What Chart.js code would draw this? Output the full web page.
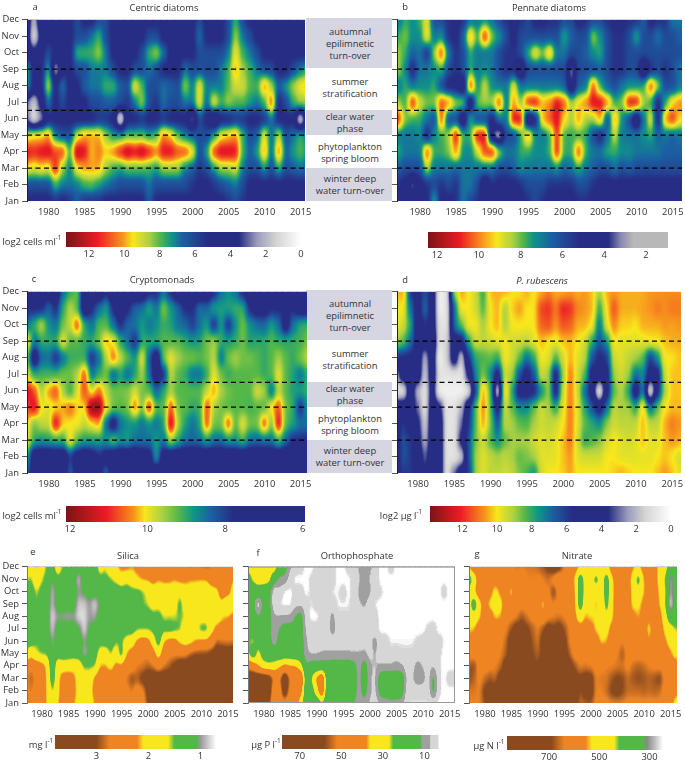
<!DOCTYPE html>
<html>
<head>
<meta charset="utf-8">
<title>Phytoplankton and nutrients</title>
<script src="https://cdn.jsdelivr.net/npm/chart.js@4"></script>
<style>
body { margin: 0; background: #fff; }
#page { position: relative; width: 685px; height: 761px; overflow: hidden; font-family: "Open Sans", sans-serif; color: #333; }
#page canvas { position: absolute; }
.txt { position: absolute; transform: translate(-50%, -50%); white-space: nowrap; font-size: 9.4px; }
.txt sup { font-size: 6.5px; line-height: 0; }
.phase { position: absolute; background: #d5d6e2; left: 306px; width: 86px; }
</style>
</head>
<body>
<div id="page"></div>
<script>
const years = [1977,1978,1979,1980,1981,1982,1983,1984,1985,1986,1987,1988,1989,1990,1991,1992,1993,1994,1995,1996,1997,1998,1999,2000,2001,2002,2003,2004,2005,2006,2007,2008,2009,2010,2011,2012,2013,2014,2015,2016];
const months = ['Jan','Feb','Mar','Apr','May','Jun','Jul','Aug','Sep','Oct','Nov','Dec'];
const yearTicks = [1980,1985,1990,1995,2000,2005,2010,2015];
const phaseMonths = [2, 4, 5.5, 8];

// rows run Jan to Dec, columns 1977 to 2016
const centric = [
 [5,5,5,5, 5.6,5,5.6,6.6, 5.6,5.6,5.6,5, 5,5,5,5, 5,6.6,5,5, 5,5,5,5, 5,5,5,5, 5.6,6.2,5.6,5, 5,5,5,5, 5,5,5,5],
 [6.2,6.2,6.2,6.2, 7.75,7,7,7, 7.75,8,7.4,7, 6.6,6.2,6.2,6.2, 6.2,7,6.2,6.2, 6.2,6.2,6.2,5.6, 5,5,5.6,6.2, 6.6,7,6.2,5, 5,5,5,5, 5,5,5,5],
 [9.5,9,9.5,9, 11.5,8.5,7,9.5, 10,10,10,8.5, 7.75,7.4,8,8, 8,7.75,7.4,8.5, 8.5,8.5,7,6.6, 5.6,6.2,7.4,8.5, 8.5,9,7,6.2, 6.2,7.4,6.2,7.75, 6.2,6.6,7,6.6],
 [11.8,11.4,11.8,12, 11,11,7.75,12.4, 11.8,9.8,10.4,9.7, 10.2,11.4,12.4,11.8, 12.4,11.4,10.3,11.8, 11.8,10.9,10.9,9.5, 6.2,7.4,11,12, 12,11.8,7.75,6.6, 7.4,10.2,6.6,10.6, 6.6,7.4,8,7.4],
 [9,9.5,9.5,10.3, 7,6.2,6.2,9, 10,10,10,8.5, 7.4,7.4,8,8, 8,7.4,8,10.5, 9.7,8,7,6.6, 6.2,6.2,7.4,9.3, 9.7,10.3,7.75,6.2, 6.6,9.5,6.6,9, 6.2,7,7.75,7],
 [3,1,2.5,5, 5,5,5,5, 5,5,5.6,5.6, 5,0.5,5,5, 5.6,5,5,5.6, 5,5,5,2.5, 6.2,5,3,5, 5,5.6,5.6,5, 5,5.6,7,5, 5,5,1,5],
 [3,1.5,4,7, 5,6.2,5,5, 5,6.2,6.2,6.6, 6.6,6.2,5.6,7, 8.55,6.2,5.6,7, 6.2,6.2,7,7, 9.5,6.6,9.5,7.75, 8.55,8,8,7.4, 7,7.75,10.9,5, 6.2,7.75,8.55,8.55],
 [7.75,5,5,9, 5,7,5,5, 6.6,7,7,7.75, 7.75,6.6,6.2,9.5, 8,6.2,6.2,7, 6.6,6.2,8.55,7, 9.5,7,7,7, 8,9,9,8, 7.75,10.4,8.55,6.6, 7.4,8.55,9.5,10],
 [7.75,5,5,7.75, 2,5,5,6.2, 6.2,7,7,7, 6.2,5,5,6.2, 6.2,7,6.2,5, 5,5,7,6.2, 6.2,6.2,6.2,7, 7.75,10,8.55,7.75, 7,6.2,6.2,5, 5,6.2,7,7.75],
 [5,4,5,6.2, 5,5,5,7.75, 7.75,7.75,8.55,7, 5,5,5,5, 6.2,7.75,8.55,7, 5,5,5,5, 6.2,6.2,6.2,6.2, 7,9.5,7.75,7, 6.2,5,5,5, 5,5,5,5],
 [5,1,4,5, 5,5,5,6.2, 6.2,7,7.75,6.2, 5,5,5,5, 5,6.2,6.2,5, 5,5,5,5, 7,5,5,5, 6.2,8.55,7,6.2, 5,5,5,5, 5,5,5,5],
 [5,2,5,5, 5,5,5,6.2, 5,5,6.2,6.2, 5,5,5,5, 5,5,5,5, 5,5,5,5, 6.2,5,5,5, 6.2,7.75,6.2,5, 5,5,5,5, 5,5,5,5]
];
const pennate = [
 [4.8,4.8,4.8,4.8, 4.8,7.7,4.8,4.8, 5.3,6.9,6,5.3, 4.8,5.3,4.8,4.8, 4.8,4.8,5.3,6, 5.3,4.8,4.8,4.8, 4.8,5.3,5.3,4.8, 4.8,4.8,4.8,4.8, 4.8,4.8,4.8,4.8, 4.8,4.8,4.8,4.8],
 [5.3,4.8,3.3,4.8, 5.3,6,5.3,6, 5.3,6.9,6.9,6, 3.6,5.3,4.8,4.8, 4.8,5.3,6,6, 6,5.3,5.3,5.3, 5.3,6,6,5.3, 4.8,4.8,4.8,4.8, 4.8,4.8,4.8,4.8, 4.8,4.8,4.8,4.8],
 [6.5,6,6,6, 8.7,6.9,6.9,6.9, 6.5,6.9,6.9,6.9, 6.9,6.9,6,6, 6.5,7.3,6.9,6.9, 6.9,6.9,7.3,6.5, 6.9,7.7,6.9,6.5, 6,6,6.9,6, 6.5,6,6,6, 6,6,6,6],
 [7.7,6.9,6.9,6.9, 10.6,7.7,7.7,8.1, 10,7.3,7.3,8.7, 10.6,11,8.35,6.9, 6.9,7.7,7.7,7.3, 7.3,7.7,11,7.7, 7.7,10.6,7.7,6.9, 6.9,7.7,7.7,7.3, 7.3,6.9,6.9,6.9, 6.9,6.5,6.5,6.5],
 [6.9,6.9,6.9,7.3, 4.8,7.3,7.7,8.35, 11.2,7.7,7.7,11.2, 11.2,3.6,2.4,6, 6,7.7,9.9,7.3, 6.9,7.7,10.9,7.7, 7.7,7.7,7.7,6, 4.8,6.9,8.7,6.9, 6.9,6.9,7.3,7.7, 6.5,6.9,6.5,6.9],
 [11,8.1,7.7,7.7, 6.9,6,10.6,6, 6,3.6,7.7,6, 6,4.8,6.9,6.9, 11.2,11.2,3,4.8, 9.5,10.4,11.2,9.3, 8.35,9.8,8.35,8.35, 9.8,6,9.8,7.3, 6,3.3,6.9,9.1, 4.8,9.8,10.8,9.3],
 [8.35,7.7,11,8.7, 8.1,8.1,10.6,10, 8.35,8.35,3.6,8.1, 8.35,8.35,10.6,6.9, 9.9,8.1,11,11.2, 9.5,10,11.2,10.4, 8.35,9.3,10,11.2, 11.2,10,7.7,8.1, 11.2,11.2,8.35,7.7, 4.8,7.7,9.3,10],
 [6.9,7.7,6.9,7.3, 7.3,7.7,6,4.8, 4.8,3.6,10.9,7.3, 8.7,7.3,6.9,6.9, 9.1,6.9,6.9,6.9, 6.9,6.9,6.9,6.5, 3.6,6.5,6.9,10.6, 7.7,6.5,6,6.9, 7.3,7.3,7.7,10.6, 8.35,6,6,6.9],
 [8.35,7.3,4.8,6.9, 6.9,7.3,7.7,6, 5.3,6,7.7,6.9, 7.3,6.9,6,5.3, 5.3,3.3,6,6, 6,6,6,6, 3,6,6,6, 6.5,6,5.3,5.3, 6,6,3.3,5.3, 6,5.3,6,6.9],
 [8.35,7.7,6.5,6.9, 5.3,8.35,10.6,6.9, 5.3,6,7.7,6.9, 6.9,6.9,6,5.3, 5.3,6,7.7,9.3, 8.1,9.8,6.9,6.9, 6,6,6.5,7.3, 7.7,6,5.3,5.3, 6,6,6,6, 6,6,6,6],
 [7.7,8.1,7.3,7.3, 9.3,6.9,7.3,5.3, 4.8,6.5,9.8,7.7, 11,8.1,7.3,6, 4.8,6,6,6, 6,6,6,7.7, 6.5,6,6,8.35, 7.3,6,5.3,5.3, 6,7.7,6,6, 6.9,6,6,6.5],
 [6.9,7.7,7.3,7.7, 9.1,6,6,5.3, 4.8,5.3,6.9,6.9, 7.3,6.9,6,5.3, 4.8,5.3,6,4.8, 4.8,5.3,5.3,6, 6,4.8,5.3,6, 6,5.3,4.8,4.8, 5.3,5.3,6.5,4.8, 5.3,5.3,6.9,6.9]
];
const crypto = [
 [8.5,7,6.8,7, 7,7,8.4,7.3, 7,7,7.3,8.5, 7,7,7,7, 7,7,7,7, 7,7,7,7, 7,7,7,7, 7,7,7,7, 7,7,7,7, 7,7,7,7],
 [9,7,7,7, 7,7,8,7.3, 7,7.3,7.8,7.4, 7,7,7,7, 7.3,7.4,8.9,7.3, 7,7,7,7, 7,7,7,7, 7,7,7,7, 7,7,7,7, 7,7,7,7],
 [10.05,9,8.8,8.9, 9.05,9,10.15,9.2, 8.9,8.9,8.9,8.8, 9.35,8.8,8.9,8.5, 8.5,8.5,8.9,8.5, 9.65,9,8.5,8.4, 8.5,8.9,8.5,8.5, 8.85,8.8,9.2,8.5, 8.4,8.5,8.5,9.2, 8.4,7.8,7.8,7.8],
 [10.15,9.35,9.75,9.75, 11.3,10.15,10.05,10.05, 9.75,10.05,10.35,8.4, 7.3,8.5,8.8,8.8, 8.5,8.8,8.5,8.9, 11.5,9.6,8.9,8.5, 8.9,10.8,9.35,9.35, 10.8,9.2,10.05,9.35, 9.35,10.8,9.35,11.3, 9.2,8.9,8.5,8.5],
 [10.8,11.3,10.05,9.9, 10.05,10.3,10.6,10.15, 10.05,12,12,10.05, 9.35,9.2,9.35,10.6, 9.35,11.05,9.2,9.2, 10.8,9.35,9.2,9, 9.05,10.8,9.6,9.35, 9.2,9.2,9.2,9.1, 9.2,9.2,10.15,10.8, 9.35,9,7.8,8.8],
 [11.3,10.8,9.6,10.35, 10.8,9.6,9,9.9, 10.8,9.9,10.6,9.75, 9.35,9.35,9.45,9.9, 9.35,9.2,8.4,9, 9.6,9.2,9.2,9.2, 9.2,9.75,10.35,9.6, 9.35,9.2,9.2,9.2, 9.9,9.6,8.4,9.75, 9.2,8.9,8.9,9.05],
 [9.9,9,9.1,9.1, 9.1,9.35,9.35,9.65, 10.8,8.5,9,9.35, 8.3,8.9,8.4,8.9, 9.6,8.5,7,7.8, 9.75,9.2,9,8.5, 8.5,9,10.05,9.35, 9,9.2,9.2,9.2, 9.2,9,9.2,10.05, 9.2,8.9,8.5,9],
 [9.35,7,8.4,8.5, 7.8,8.5,9.05,9.05, 9.05,7.8,8.5,9.65, 10.6,9.75,9.2,8.8, 10.05,8.3,7,9.35, 10.05,9.6,9.35,9.35, 9.2,9.35,9.75,8.5, 9.35,9.6,9.35,9.35, 9.2,9,9.2,9.6, 9.2,9,9.35,9.75],
 [10.35,8.5,9,9, 9,10.05,9.2,9.2, 9,9,9.35,10.3, 10.05,9,8.5,7.8, 9,9,9,9.2, 9.2,9.2,9,8.85, 8.9,9.35,9.6,9, 8.9,9,9.35,8.9, 9,9,9.2,9, 9,9.05,9.1,9.35],
 [8.5,9.05,9.75,8.8, 8.5,9.35,9.75,10.8, 9,8.5,9.2,9.2, 8.5,7.8,8.4,8.5, 8.9,8.5,8.8,9.05, 8.9,8.5,8.4,8, 8.5,8.9,7.8,8.9, 7.8,8.8,9.35,8.8, 8.5,8.4,8.9,8.5, 7.3,8.5,9,9.1],
 [7.8,7.8,7.8,8.4, 7.8,9,9.75,9.2, 7,7.8,8.5,8.9, 7.8,7,7.8,8.4, 8.5,9,8.5,9.45, 8.85,8.4,7.8,7.8, 8.5,8.4,8.9,8.9, 8.9,9.05,9.05,7.8, 7.4,7.4,7.8,7.8, 7.8,7.8,7.3,7.3],
 [7,7,7,7.4, 7,8.5,9,9.35, 7,7,7,7.8, 7,7,7,7, 7,7.8,7.8,8.5, 7.8,7,7,7, 7,7,7.8,8.5, 8.8,8.5,7.8,7, 7,7,7,7, 7,7,7,7]
];
const rubescens = [
 [5,6,6,5, 4,5,5,1, 3,5,6,9, 9.7,9.3,9.3,9.5, 9.3,8.7,8.3,7.5, 9.5,10,10,10.2, 10.6,10,10,10, 10,10,10.2,10.5, 10.2,10,10,10, 10.3,10.7,10.3,9.7],
 [5,6.5,6,5, 3,5,5,1, 1,1.5,6.5,9, 9.7,9.3,9,9.3, 9,8.5,8.7,9, 9.7,9.7,9.8,10.3, 10.7,9.7,9.5,9.5, 9.5,10,10,9.7, 9.7,9.7,9.8,9.8, 10,10.3,10,9.5],
 [5,6.5,6,4.5, 2,5,5,1, 1,4,6.5,8.7, 9.5,8.3,7.5,8.5, 9,9,9,9.5, 9.7,9.5,9.7,10.3, 11,9.5,8,8.3, 8.7,9.5,10,9.7, 9.5,9.7,10.3,9.7, 9.7,10.3,10.7,10.5],
 [5,6,5,4, 1.5,5,5,1, 1,3,6,8.5, 10.7,8.7,6.5,9.3, 9,8.5,8.3,9, 9.5,9.3,9.5,10, 11,9.7,8.5,8, 7.5,8.8,9.5,9.3, 9.3,9.3,10.5,9.3, 9.3,10.5,11,10.7],
 [5,5,5,3, 1,5,4,1, 1,2,5.5,8.5, 11,8.5,5,9.5, 8.5,7.5,7.5,8.5, 9.5,9,8,9.7, 11,9.7,8,6.5, 5,7,9.3,9, 9,8,10.3,7, 8.5,10,10.4,10.4],
 [1,1,5,2, 1,4.5,0.5,0.5, 0.5,0.5,1,6.5, 10.7,8.5,1,10.5, 8,5,5,5.5, 7.5,9,5,9.5, 11,9.5,7,5, 0.5,5,8.5,9.2, 8,4.5,7.5,0.5, 5.5,9,10.3,10.3],
 [2,5,5.5,5, 1.5,5,1,1, 1,1,4,7.5, 8.7,7.5,5,9.5, 9,6.5,5,6.5, 9.5,9,5,9, 11,9.5,8.5,5, 5,5,9,9.5, 9,7,7.5,5, 5,9.5,10.3,10.3],
 [6,5.5,5.5,5, 2,5,0.5,1.5, 5,1.5,6,8, 8.3,8.5,8,10, 9.5,8.5,7,8, 10,9.7,8.3,9.5, 10.5,9.7,9.3,6.5, 5.5,6,9.5,9.7, 9.3,9,8.5,6, 7.5,10,10,10.3],
 [9,8.5,7,5, 4.5,6,1,1.5, 5,5,8,9.5, 9.3,9.5,9.7,10, 9.5,9.5,9.3,9.7, 10.4,10,9.8,10.3, 10.4,10,9.5,8, 6.5,7.5,10,9.7, 9.7,9.7,9.8,10, 10,10.3,10.5,10.5],
 [10,9.5,8,4.5, 6,5,1,1, 7,8.5,10,10, 9,10,10.5,9, 10,10,10,10, 11.3,11.5,10.7,11.5, 11.3,10.5,10.5,10, 7,9.7,10.9,10.2, 10.2,10,10.5,10.5, 10.5,10.7,10.6,10.7],
 [10,10,7,5, 7,5,0.5,1, 7,10,10,9.5, 8.3,10,10.5,9, 10.2,10.7,10,10, 11.7,11.9,11,12.1, 11.9,10.9,10.7,10.5, 8,10,11.5,10.5, 10.5,10.5,10.6,10.7, 11,10.8,11,11],
 [10.3,10.6,6,5, 6.5,5,0.5,1, 9,10.6,10,9.5, 8,10.4,10.5,10.5, 10,10,10.5,10, 10.5,11,10.5,10.5, 10.7,10.5,10.7,10.3, 9,10.5,10.7,10.5, 10.5,10.5,10.5,10.7, 10.7,10.8,10.8,10.8]
];
const silica = [
 [2.6,2.6,2.6,2.6, 2.1,1.8,2.1,2.5, 2.5,2.2,2,1.6, 1.9,2.2,2.5,2.5, 2.5,2.5,2.5,2.6, 2.6,2.6,2.6,3, 3.3,3.3,3.3,3.3, 3.3,3.3,3.3,3.3, 3.3,3.3,3.3,3.3, 3.3,3.3,3.3,3.3],
 [2.7,2.8,2.6,2.6, 2.1,1.5,2,2.5, 2.5,2.3,2,1.8, 2,2.3,2.5,2.5, 2.5,2.6,2.6,2.7, 2.8,2.6,2.7,3.1, 3.3,3.3,3.3,3.3, 3.3,3.3,3.3,3.3, 3.3,3.3,3.3,3.3, 3.3,3.3,3.3,3.3],
 [2.7,2.9,2.7,2.6, 2.1,1.2,2,2.4, 2.5,2.3,1.9,1.8, 1.8,2.3,2.6,2.5, 2.5,2.6,2.6,2.8, 3,2.9,3.1,3.3, 3.3,3.3,3.3,3.3, 3.3,3.3,3.3,3.3, 3.3,3.3,3.3,3.3, 3.3,3.3,3.3,3.3],
 [2.6,2.7,2.6,2.4, 2.1,0.95,2,1.9, 1.9,2,1.9,1.5, 1.5,1.5,2.2,2.2, 2,2.3,2.3,2.6, 2.6,2.8,2.8,2.9, 2.8,2.6,2.8,2.9, 3.1,3.3,3.3,3.3, 3.3,3.3,3.3,2.9, 3.3,3.3,3.3,3.3],
 [1.6,2,1.6,1.5, 1.5,1,1.3,1.2, 1.3,1.3,1.3,0.9, 1.1,1.3,1.8,1.9, 1.5,1.9,1.3,2.2, 2.4,2.5,2.7,2.7, 2.4,1.9,2.5,2.7, 2.7,2.7,2.7,2.9, 3,3,3,3.1, 3.3,3.3,3.2,3.3],
 [1.3,1.3,1.5,1.4, 1.3,1,1.2,1.1, 1.2,1.3,1.3,1, 1.2,1.2,1.4,1.3, 1.3,1.5,1.5,1.8, 1.9,2.3,2.5,2.4, 1.9,1.2,2.2,2.4, 2.4,2.1,1.9,2, 2.2,2.3,2.3,2.5, 2.9,2.8,2.8,2.8],
 [1.2,1.2,1.3,1.2, 1.2,0.85,1.2,1.2, 1.2,1.2,1.1,0.8, 1.1,1.2,1.2,1.2, 1.2,1.2,1.2,1.3, 1.3,1.5,1.5,1.5, 1.4,0.9,1.4,1.3, 1.4,1.5,1.9,1.9, 1.8,1.4,1.4,2, 2.3,2.4,2.4,2.5],
 [1.2,1.2,1.2,1.2, 1.2,0.8,1,1, 0.95,1,0.8,0.8, 1,0.95,1.2,1.3, 1.3,1.2,1.2,1.3, 1.2,1.3,1.3,1.3, 1.4,1.4,1.6,1.6, 1.6,1.5,1.6,1.7, 1.8,1.8,1.8,1.9, 1.9,2.1,2.2,2.3],
 [1.2,1.2,1.5,1.3, 1.2,0.9,1.2,1.2, 1.2,1.2,0.85,0.85, 1,0.8,1.1,1.2, 1.3,1.2,1.2,1.3, 1.3,1.4,1.5,1.6, 1.8,1.7,1.9,1.8, 1.8,1.4,1.8,1.9, 1.9,1.9,1.9,1.9, 1.9,2,1.4,1.9],
 [1.2,1.3,1.6,1.4, 1.3,0.9,1.2,1.2, 1,1.2,1,1.1, 1.2,1.2,1.2,1.2, 1.3,1.2,1.3,1.3, 1.4,1.4,1.5,1.7, 1.8,1.8,1.8,1.8, 1.8,1.7,1.9,1.9, 1.9,1.7,1.7,1.9, 2,2.6,2.5,1.9],
 [1.6,1.5,1.9,1.6, 1.4,1,1.4,1.3, 1.2,1.2,0.85,1.3, 1.2,1.2,1.4,1.4, 1.5,1.7,1.9,1.7, 1.9,2.1,2.2,2.2, 2.4,2.2,2.3,2.3, 2.2,2.3,2.3,2.2, 2.2,2.2,2.2,2.5, 2.6,2.8,2.6,2.2],
 [1.9,1.9,1.5,1.8, 1.5,1.3,1.9,1.5, 1.4,1.2,1.2,1.3, 1.3,1.3,1.8,1.6, 2,2.1,2.3,2.3, 2.2,2.3,2.5,2.8, 2.8,2.7,2.6,2.5, 2.6,2.7,2.7,2.9, 2.7,2.8,2.9,2.8, 2.7,2.7,2.7,2.4]
];
const phosphate = [
 [68,68,68,65, 60,40,45,50, 42,42,32,14, 15,15,25,14, 14,14,14,14, 12,8,10,7, 5,8,9,10, 10,9,4,3, 3,3,3,4, 2,2,2,2],
 [70,70,70,68, 65,44,48,65, 50,50,42,16, 20,32,50,15, 17,20,16,15, 15,9,15,8, 6,15,16,16, 16,16,5,5, 5,5,5,14, 4,2,2,2],
 [70,70,70,68, 65,52,52,70, 52,52,55,16, 26,40,52,16, 22,28,18,16, 16,9,18,8, 6,16,18,17, 17,17,6,7, 10,9,5,14, 4,2,5,5],
 [50,45,36,30, 28,30,36,40, 38,38,30,12, 15,15,15,15, 16,16,16,16, 14,9,16,8, 7,8,8,8, 9,8,5,6, 9,7,6,7, 4,2,2,2],
 [28,16,30,20, 18,18,16,18, 18,16,17,8, 7,7,8,8, 8,8,8,8, 8,8,8,6, 8,5,4,4, 5,4,4,4, 5,6,6,6, 4,2,2,2],
 [25,28,20,15, 15,8,15,18, 15,15,16,8, 5,5,5,5, 5,5,5,5, 5,5,6,6, 9,5,5,3, 3,3,3,3, 4,5,6,3, 5,3,2,2],
 [18,20,15,15, 15,7,12,15, 15,15,16,6, 5,5,5,5, 10,5,5,5, 5,5,6,6, 5,2,2,2, 2,2,2,2, 2,2,4,5, 2,2,2,2],
 [15,15,12,15, 15,8,8,8, 8,12,15,5, 2,2,5,5, 9,4,4,4, 5,5,6,6, 5,2,2,2, 2,2,2,2, 2,2,2,2, 2,2,2,2],
 [15,15,3,15, 15,3,3,2, 2,6,6,5, 3,5,3,6, 5,3,3,3, 5,7,8,5, 3,2,2,2, 2,2,2,2, 2,2,2,2, 2,2,2,2],
 [15,15,18,15, 15,3,6,2, 2,5,5,2, 4,5,5,5, 3,3,5,2, 5,8,12,8, 5,4,2,2, 2,2,2,2, 2,2,2,2, 2,5,2,2],
 [18,28,33,33, 30,15,10,10, 5,2,2,2, 4,5,5,5, 5,2,2,2, 5,7,10,7, 6,2,2,2, 2,2,2,2, 2,2,2,2, 2,2,2,2],
 [30,33,33,34, 33,33,18,15, 8,5,5,2, 2,5,8,5, 5,2,2,5, 5,8,10,8, 6,2,2,5, 2,2,2,2, 2,2,2,2, 2,2,2,2]
];
const nitrate = [
 [640,640,640,680, 730,730,730,730, 730,730,730,730, 730,730,730,730, 730,730,730,730, 730,660,670,680, 630,630,630,640, 640,640,630,630, 630,630,630,630, 630,620,600,500],
 [650,650,640,700, 730,730,740,740, 740,740,740,740, 740,740,740,740, 740,740,740,740, 740,680,720,730, 640,640,660,700, 720,690,660,660, 660,670,660,670, 660,620,620,580],
 [690,670,630,660, 680,660,730,740, 740,740,740,740, 740,740,740,740, 740,740,740,740, 720,700,720,720, 640,650,650,680, 700,690,660,680, 690,680,670,680, 700,630,620,600],
 [680,690,620,620, 630,640,660,730, 740,740,740,730, 710,690,730,730, 730,740,740,730, 680,640,650,640, 630,630,640,640, 650,650,630,660, 670,660,640,630, 630,620,620,600],
 [620,620,620,620, 620,620,640,670, 730,730,730,720, 690,670,700,730, 720,730,730,670, 620,620,620,620, 620,620,620,620, 640,680,620,620, 620,620,620,620, 620,620,560,510],
 [600,600,620,620, 620,620,630,660, 730,730,730,720, 680,650,720,730, 720,730,720,640, 620,620,620,620, 600,530,540,620, 620,640,620,620, 620,620,550,620, 620,560,500,470],
 [530,540,600,620, 620,620,620,640, 680,730,730,700, 670,640,680,730, 700,730,680,640, 620,590,600,590, 530,510,510,580, 620,620,620,610, 590,610,510,620, 620,520,470,430],
 [510,480,530,610, 600,530,540,620, 630,640,680,650, 630,620,590,630, 640,650,640,620, 570,480,550,530, 530,500,450,530, 600,620,610,570, 540,600,570,620, 590,470,360,370],
 [500,330,510,600, 520,500,510,610, 610,620,620,620, 620,620,510,620, 640,620,620,620, 570,340,500,520, 540,520,380,530, 600,610,600,520, 520,570,600,620, 540,440,240,350],
 [480,530,620,620, 580,510,560,610, 510,620,620,620, 630,640,630,630, 700,630,620,600, 560,350,470,520, 520,500,360,520, 600,600,600,510, 470,540,600,610, 530,450,280,360],
 [330,480,610,540, 610,590,610,620, 620,630,570,640, 640,630,640,660, 620,570,630,600, 540,340,480,500, 370,500,350,530, 600,600,590,500, 370,550,600,610, 500,430,280,360],
 [560,610,620,620, 610,610,620,610, 630,650,650,650, 650,660,680,700, 740,720,640,610, 600,530,500,510, 540,520,510,600, 610,600,620,550, 530,590,650,600, 500,480,360,360]
];

const navy='#272d84', blue='#1b5fa2', teal='#0f938a', green='#54b848', lime='#a8cf45', yellow='#f8e71c', orange='#f7941d', red='#ec1c24', dark='#7a1416';
const brown='#8a4a1f', soil='#ef8423';
const rampA = [[0,'#ffffff'],[1.4,'#d4d4d4'],[2.5,'#9a9abc'],[3.5,navy],[5.3,navy],[6.7,blue],[7.3,teal],[8,green],[8.55,lime],[9.5,yellow],[10.1,orange],[11.5,red],[13.3,dark]];
const rampB = [[0.95,'#b8b8b8'],[2.6,'#b8b8b8'],[3.2,'#8b8bb0'],[3.8,navy],[5.2,navy],[6.5,blue],[7.4,teal],[7.9,green],[8.35,lime],[9.14,yellow],[9.86,orange],[10.9,red],[12.43,dark]];
const rampC = [[5.94,navy],[7.8,navy],[8.35,blue],[8.8,teal],[9.2,green],[9.6,lime],[10.07,yellow],[10.35,orange],[11.05,red],[12.1,dark]];
const rampD = [[0,'#ffffff'],[1.5,'#d4d4d4'],[2.5,'#9a9abc'],[3.6,navy],[5.7,navy],[6.8,blue],[7.6,teal],[8.4,green],[9,lime],[10,yellow],[10.7,orange],[12.1,red],[13.85,dark]];
const rampE = [[0.7,'#ffffff'],[0.85,'#cccccc'],[1,'#999999'],[1.07,green],[1.5,green],[1.62,yellow],[2.1,yellow],[2.22,soil],[2.75,soil],[3,brown],[3.8,brown]];
const rampF = [[2.5,'#ffffff'],[3,'#ffffff'],[3.5,'#d6d6d6'],[7,'#d6d6d6'],[7.5,'#a0a0a0'],[11,'#a0a0a0'],[12,green],[25,green],[27,yellow],[36,yellow],[38,soil],[52,soil],[58,brown],[78.5,brown]];
const rampG = [[246,'#ffffff'],[280,'#bbbbbb'],[310,'#888888'],[325,green],[420,green],[440,yellow],[530,yellow],[555,soil],[640,soil],[690,brown],[868,brown]];

const page = document.getElementById('page');
Chart.defaults.font.family = '"Open Sans", sans-serif';
Chart.defaults.font.size = 9.4;
Chart.defaults.color = '#333';

function addCanvas(left, top, width, height) {
    const c = document.createElement('canvas');
    c.width = width;
    c.height = height;
    c.style.left = left + 'px';
    c.style.top = top + 'px';
    c.style.width = width + 'px';
    c.style.height = height + 'px';
    page.appendChild(c);
    return c.getContext('2d');
}

function addText(x, y, html) {
    const d = document.createElement('div');
    d.className = 'txt';
    d.style.left = x + 'px';
    d.style.top = y + 'px';
    d.innerHTML = html;
    page.appendChild(d);
}

function toRgb(hex) {
    return [1, 3, 5].map(i => parseInt(hex.substr(i, 2), 16));
}

function colourAt(ramp, v) {
    if (v <= ramp[0][0]) return toRgb(ramp[0][1]);
    for (let i = 1; i < ramp.length; i++) {
        if (v <= ramp[i][0]) {
            const t = (v - ramp[i - 1][0]) / (ramp[i][0] - ramp[i - 1][0]);
            const a = toRgb(ramp[i - 1][1]), b = toRgb(ramp[i][1]);
            return a.map((c, k) => c + (b[k] - c) * t);
        }
    }
    return toRgb(ramp[ramp.length - 1][1]);
}

function blurLine(src, w, h, sigma, horizontal) {
    const r = Math.ceil(sigma * 3), kernel = [];
    let sum = 0;
    for (let i = -r; i <= r; i++) { const k = Math.exp(-i * i / (2 * sigma * sigma)); kernel.push(k); sum += k; }
    const out = new Float32Array(src.length);
    for (let y = 0; y < h; y++) {
        for (let x = 0; x < w; x++) {
            let acc = 0;
            for (let i = -r; i <= r; i++) {
                const px = horizontal ? Math.min(w - 1, Math.max(0, x + i)) : x;
                const py = horizontal ? y : Math.min(h - 1, Math.max(0, y + i));
                acc += src[py * w + px] * kernel[i + r];
            }
            out[y * w + x] = acc / sum;
        }
    }
    return out;
}

// the bars carry the value as a grey level; once drawn they are smoothed and coloured like a filled contour
const contourShade = {
    id: 'contourShade',
    afterDatasetDraw(chart, args, opts) {
        if (args.meta.type !== 'bar') return;
        const a = chart.chartArea, ctx = chart.ctx;
        const l = Math.ceil(a.left), t = Math.ceil(a.top), w = Math.floor(a.right) - l, h = Math.floor(a.bottom) - t;
        const img = ctx.getImageData(l, t, w, h);
        let vals = new Float32Array(w * h);
        for (let i = 0; i < vals.length; i++) vals[i] = img.data[i * 4];
        vals = blurLine(vals, w, h, opts.sigma[0], true);
        vals = blurLine(vals, w, h, opts.sigma[1], false);
        const lo = opts.ramp[0][0], hi = opts.ramp[opts.ramp.length - 1][0];
        const lut = [];
        for (let i = 0; i <= 255; i++) lut.push(colourAt(opts.ramp, lo + (hi - lo) * i / 255));
        for (let i = 0; i < vals.length; i++) {
            const c = lut[Math.round(vals[i])];
            img.data[i * 4] = c[0];
            img.data[i * 4 + 1] = c[1];
            img.data[i * 4 + 2] = c[2];
            img.data[i * 4 + 3] = 255;
        }
        ctx.putImageData(img, l, t);
        if (opts.frame) {
            ctx.save();
            ctx.strokeStyle = opts.frame;
            ctx.lineWidth = 1;
            ctx.strokeRect(a.left + 0.5, a.top + 0.5, a.width - 1, a.height - 1);
            ctx.restore();
        }
    }
};

function heatPanel(rows, ramp, box, xRange, o) {
    const yW = o.yWidth, xH = 22, top = 7, right = 16;
    const ctx = addCanvas(box.x0 - yW, box.y0 - top, box.x1 - box.x0 + yW + right, box.y1 - box.y0 + top + xH);
    const lo = ramp[0][0], hi = ramp[ramp.length - 1][0];
    const cells = [], greys = [];
    rows.forEach((row, m) => row.forEach((v, i) => {
        cells.push({ x: years[i], y: [m - 0.5, m + 0.5] });
        const g = Math.round(255 * (v - lo) / (hi - lo));
        greys.push('rgb(' + g + ',' + g + ',' + g + ')');
    }));
    const datasets = [{ type: 'bar', data: cells, backgroundColor: greys, order: 1, barPercentage: 1, categoryPercentage: 1, grouped: false }];
    (o.phases || []).forEach(m => datasets.push({
        type: 'line', data: [{ x: xRange[0], y: m }, { x: xRange[1], y: m }], order: 0,
        borderColor: '#000', borderWidth: 1.2, borderDash: [5, 3.5], pointRadius: 0
    }));
    new Chart(ctx, {
        type: 'bar',
        data: { datasets },
        plugins: [contourShade],
        options: {
            responsive: false,
            animation: false,
            devicePixelRatio: 1,
            layout: { autoPadding: false, padding: { top, right, left: 0, bottom: 0 } },
            plugins: { legend: { display: false }, tooltip: { enabled: false }, contourShade: { ramp, sigma: o.sigma, frame: o.frame } },
            scales: {
                x: {
                    type: 'linear', min: xRange[0], max: xRange[1], offset: false,
                    grid: { display: false, drawTicks: false },
                    border: { display: false },
                    afterBuildTicks: s => { s.ticks = yearTicks.map(v => ({ value: v })); },
                    afterFit: s => { s.height = xH; },
                    ticks: { padding: 6, maxRotation: 0, autoSkip: false, color: '#333', callback: v => String(v) }
                },
                y: {
                    type: 'linear', min: 0, max: 11,
                    grid: { drawOnChartArea: false, drawTicks: true, tickLength: 5, color: '#555' },
                    border: { display: true, color: o.axis || '#222', width: 1, z: 1 },
                    afterBuildTicks: s => { s.ticks = months.map((m, i) => ({ value: i })); },
                    afterFit: s => { s.width = yW; },
                    ticks: { padding: 3, autoSkip: false, color: '#333', callback: v => (o.monthLabels ? months[v] : '') }
                }
            }
        }
    });
}

function colourBar(ramp, ticks, box) {
    const pad = 14;
    const w = box.x1 - box.x0 + pad * 2, h = box.y1 - box.y0 + 14;
    const ctx = addCanvas(box.x0 - pad, box.y0, w, h);
    const lo = ramp[0][0], hi = ramp[ramp.length - 1][0];
    new Chart(ctx, {
        type: 'bar',
        data: {
            labels: [''],
            datasets: [{
                data: [[lo, hi]], barPercentage: 1, categoryPercentage: 1, borderSkipped: false,
                backgroundColor: c => {
                    const area = c.chart.chartArea;
                    if (!area) return '#888';
                    const g = c.chart.ctx.createLinearGradient(area.right, 0, area.left, 0);
                    ramp.forEach(s => g.addColorStop((s[0] - lo) / (hi - lo), s[1]));
                    return g;
                }
            }]
        },
        options: {
            indexAxis: 'y',
            responsive: false,
            animation: false,
            devicePixelRatio: 1,
            layout: { autoPadding: false, padding: { left: pad, right: pad, top: 0, bottom: 0 } },
            plugins: { legend: { display: false }, tooltip: { enabled: false } },
            scales: {
                y: { display: false },
                x: {
                    type: 'linear', min: lo, max: hi, reverse: true,
                    grid: { display: false, drawTicks: false },
                    border: { display: false },
                    afterBuildTicks: s => { s.ticks = ticks.map(v => ({ value: v })); },
                    afterFit: s => { s.height = 14; },
                    ticks: { padding: 2, maxRotation: 0, autoSkip: false, color: '#333', callback: v => String(v) }
                }
            }
        }
    });
}

// phase boxes between the upper panels
const phaseRows = [0, 272];
phaseRows.forEach(dy => {
    [[18, 50], [110, 25], [168, 33]].forEach(b => {
        const d = document.createElement('div');
        d.className = 'phase';
        d.style.top = (b[0] + dy) + 'px';
        d.style.height = b[1] + 'px';
        page.appendChild(d);
    });
    [[31, 'autumnal'], [43, 'epilimnetic'], [55, 'turn-over'], [81, 'summer'], [93, 'stratification'], [116, 'clear water'], [128, 'phase'],
     [146, 'phytoplankton'], [158, 'spring bloom'], [178, 'winter deep'], [190, 'water turn-over']].forEach(t => addText(350, t[0] + dy, t[1]));
});

const fine = [2.4, 5.2], coarse = [2, 4.5];
heatPanel(centric, rampA, { x0: 27, x1: 305, y0: 18, y1: 201 }, [1977, 2015.6], { yWidth: 27, monthLabels: true, phases: phaseMonths, sigma: fine });
heatPanel(pennate, rampB, { x0: 397, x1: 682, y0: 18, y1: 201 }, [1976.8, 2016.27], { yWidth: 6, phases: phaseMonths, sigma: fine });
heatPanel(crypto, rampC, { x0: 27, x1: 307, y0: 290, y1: 473 }, [1976.95, 2015.9], { yWidth: 27, monthLabels: true, phases: phaseMonths, sigma: fine });
heatPanel(rubescens, rampD, { x0: 397, x1: 681, y0: 290, y1: 473 }, [1977.1, 2016.2], { yWidth: 6, phases: phaseMonths, sigma: fine });
heatPanel(silica, rampE, { x0: 27, x1: 233, y0: 565, y1: 703 }, [1977.17, 2015.96], { yWidth: 27, monthLabels: true, sigma: coarse, axis: '#777' });
heatPanel(phosphate, rampF, { x0: 248, x1: 455, y0: 565, y1: 703 }, [1977, 2016], { yWidth: 6, sigma: coarse, axis: '#777', frame: '#999' });
heatPanel(nitrate, rampG, { x0: 469, x1: 677, y0: 565, y1: 703 }, [1977, 2016.2], { yWidth: 6, sigma: coarse, axis: '#777' });

colourBar(rampA, [12, 10, 8, 6, 4, 2, 0], { x0: 66, x1: 301, y0: 232, y1: 247 });
colourBar(rampB, [12, 10, 8, 6, 4, 2], { x0: 428, x1: 668, y0: 232, y1: 248 });
colourBar(rampC, [12, 10, 8, 6], { x0: 66, x1: 305, y0: 506, y1: 522 });
colourBar(rampD, [12, 10, 8, 6, 4, 2, 0], { x0: 430, x1: 671, y0: 506, y1: 522 });
colourBar(rampE, [3, 2, 1], { x0: 55, x1: 216, y0: 735, y1: 749 });
colourBar(rampF, [70, 50, 30, 10], { x0: 282, x1: 440, y0: 735, y1: 749 });
colourBar(rampG, [700, 500, 300], { x0: 507, x1: 663, y0: 736, y1: 750 });

const panelLetters = [[35, 6, 'a'], [405, 6, 'b'], [34, 278, 'c'], [405, 279, 'd'], [33, 551, 'e'], [258, 552, 'f'], [477, 553, 'g']];
panelLetters.forEach(t => addText(t[0], t[1], t[2]));
const panelTitles = [[164, 7, 'Centric diatoms'], [549, 7, 'Pennate diatoms'], [162, 279, 'Cryptomonads'], [542, 280, '<i>P. rubescens</i>'], [128, 555, 'Silica'], [357, 555, 'Orthophosphate'], [577, 555, 'Nitrate']];
panelTitles.forEach(t => addText(t[0], t[1], t[2]));
const barUnits = [[32, 241, 'log2 cells ml<sup>-1</sup>'], [32, 515, 'log2 cells ml<sup>-1</sup>'], [401, 515, 'log2 µg l<sup>-1</sup>'], [41, 744, 'mg l<sup>-1</sup>'], [266, 744, 'µg P l<sup>-1</sup>'], [489, 745, 'µg N l<sup>-1</sup>']];
barUnits.forEach(t => addText(t[0], t[1], t[2]));
</script>
</body>
</html>
